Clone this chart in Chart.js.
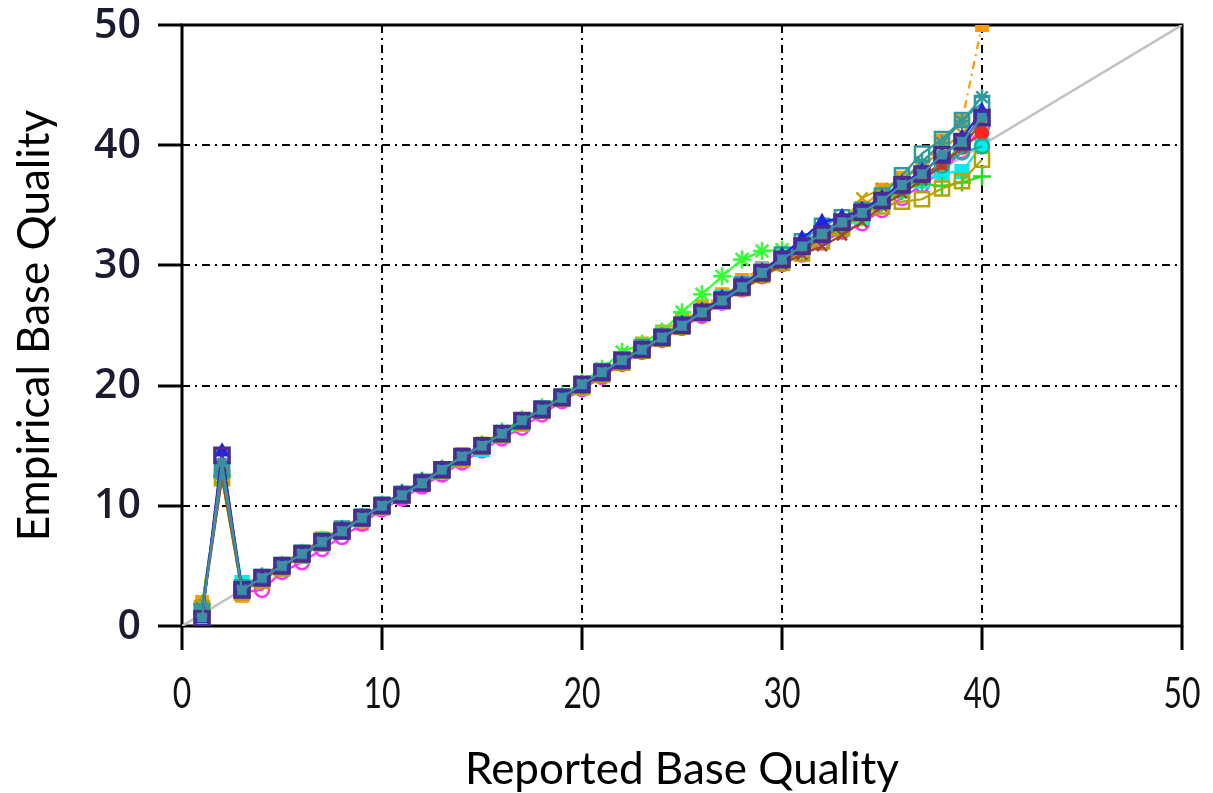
<!DOCTYPE html>
<html>
<head>
<meta charset="utf-8">
<script src="https://cdn.jsdelivr.net/npm/chart.js@4.4.1/dist/chart.umd.min.js"></script>
<style>
  html, body { margin: 0; padding: 0; background: #fff; }
  #wrap { width: 1213px; height: 793px; }
</style>
</head>
<body>
<div id="wrap"><canvas id="qualChart"></canvas></div>
<script>
// reported quality (x) and the empirical quality of each read group (y)
const reported = [1, 2, 3, 4, 5, 6, 7, 8, 9, 10, 11, 12, 13, 14, 15, 16, 17, 18, 19, 20,
  21, 22, 23, 24, 25, 26, 27, 28, 29, 30, 31, 32, 33, 34, 35, 36, 37, 38, 39, 40];

const rgOrange = [2.0, 12.8, 2.5, 3.7, 4.9, 6.0, 7.3, 8.0, 8.5, 10.0, 11.0, 12.0, 13.1, 14.3, 15.2, 16.1, 17.0, 18.2, 19.1, 20.0,
  21.1, 22.3, 23.5, 24.5, 25.5, 26.6, 27.6, 28.8, 29.8, 30.6, 31.3, 32.2, 33.1, 34.8, 36.3, 37.3, 38.0, 40.4, 42.0, 50.0];
const rgMagenta = [1.6, 13.0, 2.8, 3.0, 4.5, 5.3, 6.4, 7.4, 8.5, 9.7, 10.6, 11.6, 12.6, 13.6, 14.6, 15.6, 16.5, 17.6, 18.7, 19.7,
  20.7, 21.8, 22.8, 23.8, 24.8, 25.8, 26.9, 28.0, 29.1, 30.1, 30.9, 31.9, 32.8, 33.5, 34.6, 35.6, 36.7, 37.8, 39.5, 41.5];
const rgCyan = [1.0, 13.2, 3.6, 4.0, 4.8, 5.8, 6.8, 7.8, 8.8, 9.8, 10.8, 11.8, 12.8, 13.8, 14.7, 15.8, 16.8, 17.9, 18.9, 19.8,
  20.9, 21.9, 22.9, 23.9, 25.0, 26.2, 27.4, 28.5, 29.6, 30.6, 31.4, 32.3, 33.2, 34.0, 35.3, 36.2, 37.0, 37.7, 37.8, 40.0];
const rgLime = [1.3, 12.4, 3.1, 4.1, 5.1, 6.1, 7.1, 8.1, 9.1, 10.1, 11.1, 12.1, 13.1, 14.1, 15.1, 16.2, 17.2, 18.2, 19.2, 20.3,
  21.4, 22.8, 23.5, 24.5, 26.1, 27.6, 29.1, 30.5, 31.2, 31.3, 31.6, 32.2, 33.1, 34.0, 35.2, 36.3, 37.3, 38.5, 40.0, 41.8];
const rgGreen = [1.8, 12.5, 3.1, 4.0, 5.0, 6.0, 7.0, 8.0, 9.0, 10.0, 11.0, 12.0, 13.0, 14.0, 15.0, 16.0, 17.0, 18.0, 19.0, 20.0,
  21.0, 22.0, 23.0, 24.0, 25.0, 26.0, 27.1, 28.2, 29.3, 30.3, 31.2, 32.2, 33.2, 34.2, 35.3, 36.2, 36.8, 36.6, 36.9, 37.4];
const rgOlive = [1.5, 12.3, 2.8, 3.8, 4.8, 5.9, 6.9, 7.9, 8.9, 9.9, 10.9, 11.9, 12.9, 13.9, 14.9, 15.9, 16.9, 17.9, 18.9, 19.9,
  20.9, 21.9, 22.9, 23.9, 24.9, 26.0, 27.0, 28.1, 29.2, 30.2, 31.0, 32.0, 33.1, 34.4, 34.9, 35.3, 35.5, 36.4, 37.0, 38.8];
const rgGold = [1.4, 12.6, 3.2, 4.2, 5.2, 6.2, 7.2, 8.2, 9.1, 10.1, 11.1, 12.1, 13.1, 14.1, 15.1, 16.1, 17.1, 18.1, 19.1, 20.1,
  21.1, 22.1, 23.1, 24.2, 25.3, 26.4, 27.4, 28.5, 29.6, 30.5, 31.3, 32.2, 33.5, 35.6, 36.4, 37.2, 38.2, 39.6, 41.0, 42.5];
const rgRed = [1.2, 12.9, 3.0, 3.9, 4.9, 5.9, 6.9, 7.9, 8.9, 9.9, 10.9, 11.9, 12.9, 13.9, 14.9, 15.9, 16.9, 17.9, 18.9, 19.9,
  20.9, 21.9, 22.9, 23.9, 24.9, 25.9, 27.0, 28.1, 29.2, 30.3, 31.3, 32.3, 33.3, 34.3, 35.4, 36.4, 37.4, 38.5, 39.8, 41.0];
const rgSea = [1.1, 12.7, 3.1, 4.0, 5.0, 6.0, 7.0, 8.0, 9.0, 10.0, 11.0, 12.0, 13.0, 14.0, 15.0, 16.0, 17.0, 18.0, 19.0, 20.0,
  21.0, 22.0, 23.0, 24.0, 25.0, 26.1, 27.1, 28.2, 29.3, 30.4, 31.4, 32.4, 33.4, 34.4, 35.4, 36.4, 37.3, 38.3, 39.4, 39.9];
const rgBrown = [1.0, 12.3, 3.0, 4.0, 5.0, 6.0, 7.0, 8.0, 9.0, 10.0, 11.0, 12.0, 13.0, 14.0, 15.0, 16.0, 17.0, 18.0, 19.0, 20.0,
  21.0, 22.0, 23.0, 24.0, 25.0, 26.0, 27.0, 28.0, 29.0, 30.1, 30.9, 31.6, 32.5, 33.6, 34.9, 36.0, 37.1, 38.3, 39.8, 42.0];
const rgTealStar = [1.5, 13.1, 3.3, 4.2, 5.1, 6.1, 7.1, 8.1, 9.1, 10.1, 11.1, 12.1, 13.1, 14.1, 15.1, 16.1, 17.1, 18.1, 19.1, 20.1,
  21.1, 22.2, 23.2, 24.2, 25.2, 26.3, 27.3, 28.4, 29.5, 30.7, 31.8, 32.9, 33.7, 34.5, 35.6, 37.0, 38.6, 40.2, 42.0, 44.0];
const rgTeal = [1.2, 13.0, 3.2, 4.1, 5.1, 6.1, 7.1, 8.1, 9.1, 10.1, 11.0, 12.0, 13.0, 14.0, 15.0, 16.0, 17.0, 18.1, 19.1, 20.1,
  21.2, 22.1, 23.2, 24.1, 25.1, 26.1, 27.2, 28.4, 29.4, 30.9, 32.0, 33.3, 34.0, 34.6, 35.8, 37.5, 39.3, 40.5, 42.1, 43.5];
const rgBlue = [0.6, 14.5, 3.0, 4.0, 5.0, 6.0, 7.0, 8.0, 9.0, 10.0, 11.0, 12.0, 13.0, 14.0, 15.0, 16.0, 17.0, 18.0, 19.0, 20.0,
  21.0, 22.0, 23.0, 24.0, 25.1, 26.2, 27.3, 28.4, 29.5, 30.8, 32.2, 33.6, 34.0, 34.6, 35.6, 36.8, 37.8, 39.0, 40.6, 42.8];
const rgPurple = [0.6, 14.2, 3.0, 4.0, 5.0, 6.0, 7.0, 7.9, 9.0, 10.0, 10.9, 11.9, 13.0, 14.1, 15.0, 16.0, 17.1, 18.0, 19.0, 20.1,
  21.1, 22.1, 23.0, 24.0, 25.0, 26.1, 27.1, 28.2, 29.4, 30.5, 31.6, 32.6, 33.6, 34.4, 35.4, 36.7, 37.6, 39.2, 40.3, 42.3];
const rgSteel = [0.7, 13.6, 3.0, 4.0, 5.0, 6.0, 7.0, 7.9, 9.0, 10.0, 10.9, 11.9, 13.0, 14.1, 15.0, 16.0, 17.1, 18.0, 19.0, 20.1,
  21.1, 22.1, 23.0, 24.0, 25.0, 26.1, 27.1, 28.2, 29.4, 30.5, 31.6, 32.6, 33.6, 34.4, 35.4, 36.7, 37.6, 39.2, 40.3, 42.3];

// y = x reference line
const diagX = [0, 50];
const diagY = [0, 50];

const axisTicks = [0, 10, 20, 30, 40, 50];

function pts(ys) {
  return ys.map((y, i) => ({x: reported[i], y: y}));
}

function group(ys, color, style, radius, filled, dash, bw) {
  return {
    data: pts(ys),
    borderColor: color,
    backgroundColor: filled ? color : 'transparent',
    pointBorderColor: color,
    pointBackgroundColor: filled ? color : 'transparent',
    pointStyle: style,
    pointRadius: radius,
    pointBorderWidth: bw || 2.5,
    borderWidth: 2.2,
    borderDash: dash || [],
    tension: 0
  };
}

// index 0 is painted last (on top)
const datasets = [
  group(rgSteel, '#3f8fa3', 'rect', 5, true),
  group(rgPurple, '#4a2b8f', 'rect', 10, false, null, 3.5),
  group(rgBlue, '#2222ee', 'triangle', 7, true),
  group(rgTeal, '#2f9a9e', 'rect', 10, false),
  group(rgTealStar, '#3a9a9a', 'star', 8, false),
  group(rgBrown, '#9c4a24', 'crossRot', 7, false),
  group(rgSea, '#17b09c', 'circle', 7, false),
  group(rgRed, '#ff2222', 'circle', 6, true),
  group(rgGold, '#c9a400', 'crossRot', 8, false),
  group(rgOlive, '#b5a300', 'rect', 10, false),
  group(rgGreen, '#22dd22', 'cross', 9, false),
  group(rgLime, '#33ff33', 'star', 9, false),
  group(rgCyan, '#00eef2', 'rect', 9, true),
  group(rgMagenta, '#ff33ff', 'circle', 7, false),
  group(rgOrange, '#ff9a00', 'rect', 8, true, [8, 5, 2, 5]),
  {
    data: diagX.map((x, i) => ({x: x, y: diagY[i]})),
    borderColor: '#c2c2c2',
    borderWidth: 2.5,
    pointRadius: 0,
    tension: 0
  }
];

// frame around the plot, under the data
const frame = {
  id: 'frame',
  beforeDatasetsDraw(chart) {
    const a = chart.chartArea, ctx = chart.ctx;
    ctx.save();
    ctx.strokeStyle = '#000';
    ctx.lineWidth = 3;
    ctx.strokeRect(a.left, a.top, a.right - a.left, a.bottom - a.top);
    ctx.restore();
  }
};

// tick labels: x in a squeezed face under the axis, y semibold to the left
const tickLabels = {
  id: 'tickLabels',
  afterDraw(chart) {
    const sx = chart.scales.x, sy = chart.scales.y, ctx = chart.ctx;
    ctx.save();
    ctx.textBaseline = 'middle';
    ctx.fillStyle = '#111';
    ctx.font = '42px Lato, sans-serif';
    ctx.textAlign = 'center';
    axisTicks.forEach(v => {
      ctx.save();
      ctx.translate(sx.getPixelForValue(v), 694);
      ctx.scale(0.76, 1);
      ctx.fillText(String(v), 0, 0);
      ctx.restore();
    });
    ctx.fillStyle = '#1c1c30';
    ctx.font = '600 41px "Open Sans", sans-serif';
    ctx.textAlign = 'right';
    axisTicks.forEach(v => {
      ctx.fillText(String(v), 141, sy.getPixelForValue(v) + 1);
    });
    ctx.restore();
  }
};

const gridOpts = {
  color: '#000',
  lineWidth: 2,
  drawTicks: true,
  tickLength: 24,
  tickWidth: 3,
  tickColor: '#000',
  tickBorderDash: []
};

new Chart(document.getElementById('qualChart'), {
  type: 'line',
  data: {datasets: datasets},
  options: {
    responsive: true,
    maintainAspectRatio: false,
    animation: false,
    layout: {padding: {left: 0, top: 25, right: 31, bottom: 0}},
    plugins: {legend: {display: false}, tooltip: {enabled: false}},
    scales: {
      x: {
        type: 'linear',
        min: 0, max: 50,
        afterBuildTicks: s => { s.ticks = axisTicks.map(v => ({value: v})); },
        afterFit: s => { s.height = 167; s.paddingLeft = 0; s.paddingRight = 0; },
        grid: gridOpts,
        border: {display: false, dash: [8, 5, 2, 5]},
        ticks: {display: false},
        title: {
          display: true,
          text: 'Reported Base Quality',
          color: '#000',
          padding: {top: 0, bottom: -3},
          font: {family: 'Lato, sans-serif', size: 44}
        }
      },
      y: {
        type: 'linear',
        min: 0, max: 50,
        afterBuildTicks: s => { s.ticks = axisTicks.map(v => ({value: v})); },
        afterFit: s => { s.width = 182; s.paddingTop = 0; s.paddingBottom = 0; },
        grid: gridOpts,
        border: {display: false, dash: [8, 5, 2, 5]},
        ticks: {display: false},
        title: {
          display: true,
          text: 'Empirical Base Quality',
          color: '#000',
          padding: {top: 8, bottom: 0},
          font: {family: 'Lato, sans-serif', size: 44}
        }
      }
    }
  },
  plugins: [frame, tickLabels]
});
</script>
</body>
</html>
